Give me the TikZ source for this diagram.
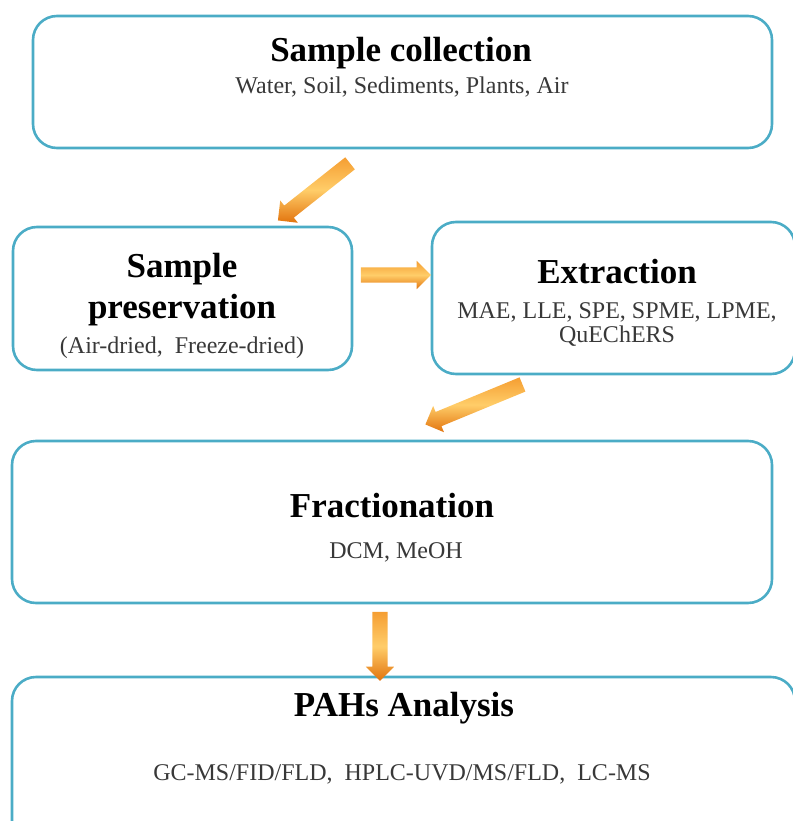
\documentclass[tikz,border=0pt]{standalone}
\usepackage{fontspec}
\setmainfont{Liberation Serif}
\usetikzlibrary{shapes.arrows}
\definecolor{boxblue}{RGB}{75,172,198}
\definecolor{arrowdark}{RGB}{226,116,14}
\definecolor{arrowmid}{RGB}{245,158,50}
\definecolor{arrowlight}{RGB}{255,205,105}

\begin{document}
\begin{tikzpicture}[x=1pt,y=-1pt,
  stage/.style={draw=boxblue,line width=2.6pt,rounded corners=24pt,inner sep=0pt,outer sep=0pt},
  head/.style={font=\fontsize{35}{41}\selectfont\bfseries,anchor=base,inner sep=0pt},
  detail/.style={font=\fontsize{24}{24}\selectfont,text=black!78,anchor=base,inner sep=0pt},
  fatarrow/.style={single arrow,draw=none,top color=arrowmid,bottom color=arrowdark,middle color=arrowlight,single arrow head extend=6.5pt,inner xsep=0pt,inner ysep=7.5pt,outer sep=0pt,sloped,allow upside down}]
\useasboundingbox (0,0) rectangle (792,821);
% boxes
\node[stage,minimum width=739pt,minimum height=132pt] (collect) at (402.5,82) {};
\node[stage,minimum width=339pt,minimum height=143pt] (preserve) at (182.5,298.5) {};
\node[stage,minimum width=363pt,minimum height=152pt] (extract) at (613.5,298) {};
\node[stage,minimum width=760pt,minimum height=162pt] (fraction) at (392,522) {};
\node[stage,minimum width=783pt,minimum height=173pt] (analysis) at (403.5,763.5) {};
% texts
\node[head] (collecthead) at (401,62) {Sample collection};
\node[detail] (collectsub) at (402,94) {Water, Soil, Sediments, Plants, Air};
\node[head] (preservehead) at (182,277) {Sample};
\node[head] (preservehead2) at (182,318) {preservation};
\node[detail] (preservesub) at (182,353) {(Air-dried, \ Freeze-dried)};
\node[head] (extracthead) at (617,283) {Extraction};
\node[detail] (extractsub) at (617,318) {MAE, LLE, SPE, SPME, LPME,};
\node[detail] (extractsub2) at (617,342) {QuEChERS};
\node[head] (fractionhead) at (392,517) {Fractionation};
\node[detail] (fractionsub) at (396,558) {DCM, MeOH};
\node[head] (analysishead) at (404,716) {PAHs Analysis};
\node[detail] (analysissub) at (402,780) {GC-MS/FID/FLD, \ HPLC-UVD/MS/FLD, \ LC-MS};
% arrows
\coordinate (a1s) at (353,161); \coordinate (a1e) at (281,218);
\coordinate (a2s) at (357,275); \coordinate (a2e) at (427,275);
\coordinate (a3s) at (526,383); \coordinate (a3e) at (429,423);
\coordinate (a4s) at (380,608); \coordinate (a4e) at (380,677);
\path (a1s) -- node[fatarrow,minimum height=92pt] {} (a1e);
\path (a2s) -- node[fatarrow,minimum height=70pt] {} (a2e);
\path (a3s) -- node[fatarrow,minimum height=105pt] {} (a3e);
\path (a4s) -- node[fatarrow,minimum height=69pt] {} (a4e);
\end{tikzpicture}
\end{document}
